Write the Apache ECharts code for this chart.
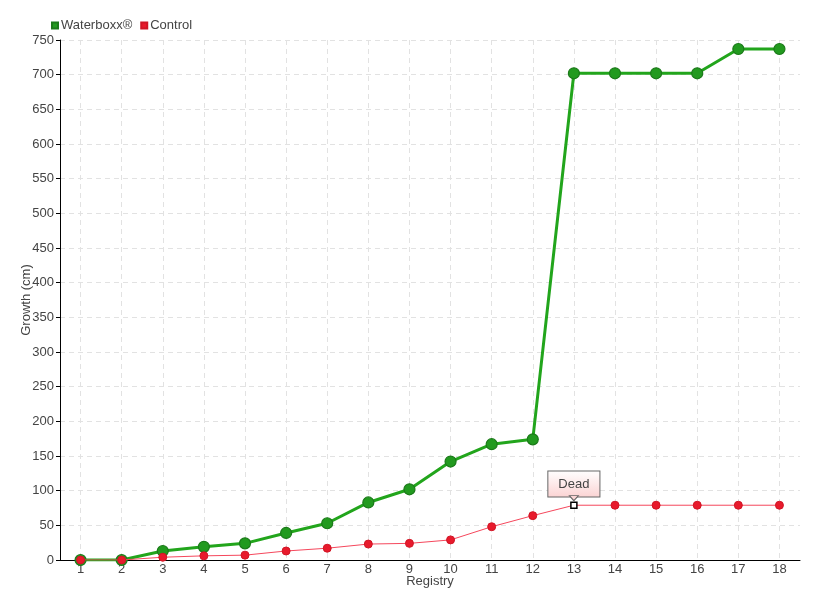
<!DOCTYPE html>
<html>
<head>
<meta charset="utf-8">
<script src="https://cdn.jsdelivr.net/npm/echarts@6/dist/echarts.min.js"></script>
<style>
  html, body { margin: 0; padding: 0; background: #fff; }
  #chart { width: 820px; height: 600px; }
</style>
</head>
<body>
<div id="chart"></div>
<script>
  // registry numbers along the x axis
  const registry = ['1', '2', '3', '4', '5', '6', '7', '8', '9', '10', '11', '12', '13', '14', '15', '16', '17', '18'];
  // growth in cm
  const waterboxx = [0, 0, 13, 19, 24, 39, 53, 83, 102, 142, 167, 174, 702, 702, 702, 702, 737, 737];
  const control = [0, 0, 4, 6, 7, 13, 17, 23, 24, 29, 48, 64, 79, 79, 79, 79, 79, 79];
  const deadIndex = 12; // control plant died at registry 13

  const font = '"Liberation Sans", Arial, sans-serif';

  const controlData = control.map((v, i) => {
    if (i !== deadIndex) return v;
    return {
      value: v,
      symbol: 'rect',
      symbolSize: 6,
      itemStyle: { color: '#fff', borderColor: '#000', borderWidth: 1.5 },
      label: {
        show: true,
        position: 'top',
        distance: 5,
        formatter: 'Dead',
        fontFamily: font,
        fontSize: 13,
        color: '#444',
        padding: [6, 10, 6, 10],
        borderColor: '#666',
        borderWidth: 1,
        backgroundColor: {
          type: 'linear', x: 0, y: 0, x2: 0, y2: 1,
          colorStops: [{ offset: 0, color: '#fff' }, { offset: 1, color: '#fbd3d3' }]
        }
      }
    };
  });

  const chart = echarts.init(document.getElementById('chart'));
  chart.setOption({
    animation: false,
    textStyle: { fontFamily: font },
    legend: {
      left: 46,
      top: 14,
      icon: 'rect',
      itemWidth: 6,
      itemHeight: 6,
      itemGap: 8,
      textStyle: { fontSize: 13, color: '#444', fontFamily: font, padding: [0, 0, 0, -2] },
      data: ['Waterboxx®', 'Control']
    },
    grid: { left: 60, right: 20, top: 40, bottom: 40 },
    xAxis: {
      type: 'category',
      data: registry,
      boundaryGap: true,
      name: 'Registry',
      nameLocation: 'middle',
      nameMoveOverlap: false,
      nameGap: 15,
      nameTextStyle: { fontSize: 13, color: '#444' },
      axisLine: { lineStyle: { color: '#000' } },
      axisTick: { alignWithLabel: true, length: 5, lineStyle: { color: '#000' } },
      axisLabel: { fontSize: 13, color: '#444', margin: 3 },
      splitLine: { show: true, alignWithLabel: true, lineStyle: { color: '#e2e2e2', type: [5, 4] } }
    },
    yAxis: {
      type: 'value',
      min: 0,
      max: 750,
      interval: 50,
      name: 'Growth (cm)',
      nameLocation: 'middle',
      nameMoveOverlap: false,
      nameGap: 27,
      nameTextStyle: { fontSize: 13, color: '#444' },
      axisLine: { show: true, lineStyle: { color: '#000' } },
      axisTick: { show: true, length: 4, lineStyle: { color: '#000' } },
      axisLabel: { fontSize: 13, color: '#444', margin: 6 },
      splitLine: { show: true, lineStyle: { color: '#e2e2e2', type: [5, 4] } }
    },
    series: [
      {
        name: 'Waterboxx®',
        type: 'line',
        data: waterboxx,
        symbol: 'circle',
        symbolSize: 11,
        z: 3,
        lineStyle: { color: '#22a51c', width: 3 },
        itemStyle: { color: '#229a1f', borderColor: '#1b7a19', borderWidth: 1.2 }
      },
      {
        name: 'Control',
        type: 'line',
        data: controlData,
        symbol: 'circle',
        symbolSize: 8,
        z: 4,
        lineStyle: { color: '#f5475c', width: 1 },
        itemStyle: { color: '#e81a2c', borderColor: '#d01525', borderWidth: 1 },
        // little pointer under the "Dead" callout
        markPoint: {
          silent: true,
          symbol: 'triangle',
          symbolRotate: 180,
          symbolSize: [9, 5],
          symbolOffset: [0, -7],
          label: { show: false },
          itemStyle: { color: '#fbd6d6', borderColor: '#666', borderWidth: 1 },
          data: [{ coord: [deadIndex, control[deadIndex]] }]
        }
      }
    ]
  });
</script>
</body>
</html>
